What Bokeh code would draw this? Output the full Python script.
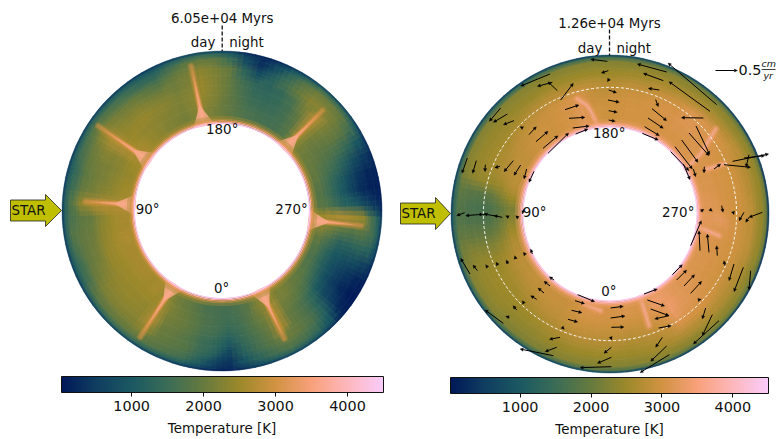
import numpy as np
from bokeh.plotting import figure
from bokeh.layouts import row
from bokeh.models import Range1d, LinearColorMapper, ColorBar, FixedTicker, ColumnDataSource, Arrow, NormalHead
from bokeh.core.properties import value
from bokeh.embed import file_html
from bokeh.resources import INLINE

# ---- data -------------------------------------------------------------
sector_deg = 6
stops = ["#011959", "#103F60", "#1C5A62", "#3C6D56", "#687B3E", "#9D892B", "#D29343", "#F8A17B", "#FDB7BC", "#FACCFA"]
colorbar_ticks = [1000, 2000, 3000, 4000]
left_title = "6.05e+04 Myrs"
right_title = "1.26e+04 Myrs"

inner_ring_T = [4400, 3800, 3200, 2850, 2600]
left_T_1 = [1650,1700,1850,2000,2150,2450,2600,2550,2600,2600,2600,2600,2650,2600,2600,2700,2550,2500,2450,2500,2650,2600,2450,2350,2250,2200,2150,2250,2250,2100,1950,1800,1700,1650,1600,1650,1800,2500,2150,2050,2000,1950,1850,1800,1850,2500,2300,1950,1800,1750,1800,1900,2000,2150,2200,2550,2250,1850,1700,1600]
left_T_2 = [1650,1750,1900,2050,2200,2550,2500,2500,2500,2500,2500,2550,2550,2500,2500,2700,2400,2350,2300,2350,2650,2500,2400,2350,2300,2250,2200,2300,2350,2200,1950,1750,1550,1500,1500,1600,1850,2600,2100,1950,1850,1700,1500,1450,1600,2600,2100,1650,1350,1250,1350,1550,1800,2000,2100,2650,2150,1850,1650,1550]
left_T_3 = [1600,1700,1900,2050,2150,2600,2400,2450,2450,2450,2450,2450,2400,2350,2300,2700,2300,2200,2200,2300,2700,2450,2450,2450,2350,2300,2200,2300,2450,2250,2000,1700,1450,1400,1450,1600,1950,2650,2150,1950,1750,1500,1150,1050,1300,2650,1900,1300,1000,850,850,1050,1500,1800,2000,2650,2050,1800,1550,1400]
left_T_4 = [1400,1550,1800,1950,2050,2650,2350,2400,2400,2350,2250,2150,2100,2050,2000,2600,2150,2100,2150,2300,2650,2350,2300,2300,2200,2150,2100,2200,2450,2250,2000,1600,1350,1300,1400,1700,2150,2700,2200,1950,1600,1150,750,650,1100,2550,1800,1300,850,600,500,700,1350,1750,1950,2600,1950,1700,1450,1100]
left_T_5 = [1250,1500,1800,1900,2000,2400,2250,2250,2250,2200,2050,1950,1950,1950,1900,2350,2000,1900,2000,2100,2400,2200,2100,2050,1900,1800,2000,2150,2350,2200,2000,1350,800,1200,1600,2000,2300,2300,2150,1850,1350,750,400,300,750,2400,1850,1350,800,400,250,500,1250,1750,1950,2100,1850,1600,1250,700]
left_T_6 = [700,1200,1600,1750,1850,1950,2000,2000,1950,1850,1600,1550,1700,1800,1700,1800,1550,1450,1650,1750,1900,1800,1700,1550,1400,1350,1650,1900,2050,1950,1550,800,350,800,1400,1850,2100,2100,2000,1600,1000,450,200,150,450,1600,1650,1250,600,200,80,250,1000,1500,1700,1800,1650,1350,950,400]
left_T_7 = [450,850,1150,1250,1350,1450,1500,1500,1450,1350,1200,1150,1250,1300,1250,1300,1200,1100,1200,1300,1400,1300,1200,1150,1050,1000,1200,1400,1500,1400,1100,600,300,550,1000,1350,1550,1550,1500,1150,750,350,200,150,300,1100,1200,900,450,150,60,150,750,1100,1300,1400,1200,950,650,300]
left_T_8 = [250,400,550,600,650,700,700,700,700,650,600,550,600,650,600,650,600,550,600,650,700,650,600,550,500,500,550,700,750,700,550,300,200,300,500,650,750,750,700,550,350,200,120,100,180,550,600,500,250,100,50,100,400,550,650,700,600,500,350,150]

right_T_1 = [3050,3100,3050,2950,2900,2900,2900,2850,2850,2800,2800,2750,2650,2500,2300,2200,2500,2750,2800,2850,2850,2900,2950,2950,2950,3000,3050,3200,3000,2950,2950,3000,3000,3000,3000,3050,3050,3050,3100,3100,3100,3100,3100,3150,3150,3200,3150,3100,3100,3100,3100,3150,3150,3200,3300,3350,3100,3050,3100,3050]
right_T_2 = [2950,2950,2950,2900,2850,2850,2800,2750,2700,2650,2650,2550,2400,2150,1950,1900,2200,2550,2700,2750,2800,2850,2900,2950,2950,3000,3050,3200,2950,2950,2950,3000,3000,3000,3050,3050,3100,3100,3100,3100,3050,3050,3050,3050,3100,3250,3100,3050,3050,3050,3050,3100,3150,3200,3350,3100,3000,2950,2950,2950]
right_T_3 = [2850,2850,2850,2800,2750,2700,2650,2600,2550,2550,2500,2450,2250,1950,1750,1700,1950,2450,2600,2650,2650,2750,2800,2850,2900,2950,3050,3100,2900,2850,2900,2950,2950,3000,3050,3050,3150,3150,3100,3050,3000,3000,3000,3000,3000,3050,3050,3000,3000,3000,3000,3050,3100,3150,3250,3000,2900,2850,2800,2850]
right_T_4 = [2700,2700,2700,2650,2600,2550,2500,2500,2500,2500,2500,2450,2250,1950,1750,1650,1850,2450,2550,2550,2550,2550,2600,2650,2700,2750,2750,2800,2800,2750,2750,2800,2800,2850,2900,2950,3100,3100,3050,3000,2950,2950,2950,2950,2950,2950,2950,2950,2950,2900,2900,2950,3000,3000,3050,2850,2750,2700,2650,2700]
right_T_5 = [2500,2500,2500,2450,2450,2400,2400,2400,2450,2450,2450,2400,2250,1950,1750,1700,1850,2350,2450,2450,2450,2450,2450,2450,2450,2500,2500,2500,2500,2500,2500,2550,2550,2600,2600,2650,2650,2700,2700,2750,2800,2750,2750,2750,2800,2800,2800,2800,2750,2700,2700,2700,2700,2700,2700,2650,2600,2550,2500,2500]
right_T_6 = [2300,2300,2300,2300,2250,2250,2250,2250,2300,2300,2300,2250,2150,1950,1800,1800,1900,2200,2300,2300,2300,2300,2300,2300,2300,2300,2300,2300,2300,2300,2300,2300,2350,2350,2350,2350,2400,2400,2400,2400,2450,2450,2450,2450,2450,2450,2450,2450,2400,2400,2400,2400,2400,2400,2350,2350,2350,2350,2300,2300]
right_T_7 = [1800,1800,1750,1700,1650,1650,1600,1600,1600,1550,1550,1500,1500,1450,1400,1400,1450,1500,1500,1500,1500,1500,1500,1500,1500,1550,1600,1600,1600,1650,1650,1700,1750,1800,1850,1850,1900,1950,1950,2000,2050,2050,2050,2050,2050,2050,2050,2050,2050,2000,2000,2000,2000,2000,1950,1950,1900,1900,1850,1800]
right_T_8 = [800,800,750,700,700,700,650,650,650,650,650,650,600,600,600,600,600,600,650,650,650,650,650,650,650,650,650,650,700,700,700,700,700,700,700,650,650,600,600,550,500,500,450,450,450,450,450,450,500,500,500,550,550,600,600,650,700,700,750,800]

left_plume_theta = [334, 33, 94, 124.5, 168, 225, 276]
left_plume_end = [426, 450, 411, 450, 444, 426, 420]

arrow_x0 = [-8,-5,-6,170,160,148,320,300,-180,-173,-158,-148,-328,-308,-288,-266,-243,-222,-201,-186,-103,-112,-123,-135,-4,-6,-4,-4,137,126,114,104,97,280,258,237,215,195,182,220,250,283,312,342,417,368,402,-428,-401,-374,-330,-290,-268,-250,-228,-436,-396,-368,-343,-323,-303,-275,-258,272,302,335,370,402,457,417,-420,-398,-371,-340,-306,-283,-256,-233,-168,-180,-198,-220,-260,-280,-302,-320,-97,-105,-115,-126,2,2,4,112,122,177,146,102,187,200,222,242,264,287,307,327,157,170,178,-150,-160,-170,4,4,4,4,-138,242,270,297,322,345,372,400,422]
arrow_y0 = [458,430,400,426,400,372,328,308,420,395,370,342,318,300,280,260,238,217,197,182,240,258,287,313,372,342,310,282,343,316,288,262,242,288,264,243,222,202,187,150,135,142,135,148,178,158,168,168,160,148,143,160,147,135,128,4,-2,0,-6,-10,-10,-12,15,8,12,25,4,5,5,-10,-180,-170,-155,-148,-150,-134,-120,-120,-198,-216,-237,-256,-265,-288,-310,-328,-242,-260,-289,-316,-282,-312,-340,-258,-285,-305,-342,-240,-182,-198,-216,-238,-258,-282,-302,-320,-370,-396,-422,-370,-400,-425,-430,-400,-458,-375,-345,-95,-110,-115,-125,-155,-150,-160,-170]
arrow_x1 = [-58,-26,-8,82,100,115,174,177,-268,-218,-186,-110,-362,-350,-320,-270,-221,-186,-156,-124,-66,-62,-75,-93,20,28,22,16,145,170,160,148,145,214,299,297,264,247,237,240,257,282,332,422,408,476,464,-444,-412,-375,-346,-318,-288,-258,-243,-460,-433,-396,-378,-348,-313,-283,-263,282,307,339,372,387,417,407,-448,-411,-373,-342,-311,-286,-260,-238,-182,-198,-216,-238,-263,-291,-313,-375,-46,-76,-84,-97,40,45,42,164,177,134,184,142,217,230,254,275,274,277,277,250,137,122,90,-182,-195,-270,-38,-18,-90,5,-137,274,267,292,320,342,357,372,417]
arrow_y1 = [464,423,397,450,422,377,453,397,384,383,397,392,278,275,268,262,262,248,235,243,255,264,290,327,364,335,305,278,322,280,257,235,222,289,178,175,155,135,130,103,112,123,150,140,140,180,175,122,122,127,139,127,116,105,95,-5,-5,-2,0,-5,-5,-5,0,14,8,5,-2,-20,-10,-25,-133,-153,-152,-145,-138,-125,-115,-105,-188,-202,-222,-245,-260,-275,-307,-288,-263,-269,-296,-324,-277,-306,-339,-276,-305,-315,-335,-225,-152,-168,-182,-202,-256,-315,-365,-390,-400,-442,-476,-376,-413,-405,-448,-418,-461,-378,-346,-20,-50,-60,-95,-140,-200,-233,-228]

# ---- shared helpers ---------------------------------------------------
xs = np.linspace(0, 1, len(stops))
rgb = np.array([[int(c[i:i + 2], 16) for i in (1, 3, 5)] for c in stops], dtype=float)
palette = ["#%02x%02x%02x" % tuple(int(round(np.interp(t, xs, rgb[:, k]))) for k in range(3)) for t in np.linspace(0, 1, 256)]

FONT = value("DejaVu Sans")
H = 439


def cell_layer(p, mapper, r_edges, rows, shift, alpha, seal):
    """One wedge per table cell, drawn at a fraction of a cell's offset; stacked layers cross-fade the cells."""
    rec = {"ir": [], "or": [], "sa": [], "ea": [], "T": []}
    inner, outer = r_edges[0], r_edges[-1]
    over = 0.05 if seal else 0.0
    for k, row_values in enumerate(rows):
        w = r_edges[k + 1] - r_edges[k]
        if k == 0:
            w = 40
        for i, t in enumerate(row_values):
            a = (i + shift) * sector_deg
            rec["ir"].append(max(inner, min(outer, r_edges[k] + shift * w)))
            rec["or"].append(min(outer, r_edges[k + 1] + shift * w))
            rec["sa"].append(np.radians(270 - a - sector_deg - over))
            rec["ea"].append(np.radians(270 - a + over))
            rec["T"].append(t)
    rec["x"] = [0] * len(rec["T"])
    rec["y"] = [0] * len(rec["T"])
    c = {"field": "T", "transform": mapper}
    p.annular_wedge(x="x", y="y", inner_radius="ir", outer_radius="or", start_angle="sa", end_angle="ea",
                    fill_color=c, fill_alpha=alpha, line_color=c if seal else None, line_width=0.4,
                    source=ColumnDataSource(rec))


def panel(width, x_left, cx, cy, r_edges, rows, low, high):
    p = figure(width=width, height=H, output_backend="svg", toolbar_location=None, min_border=0,
               x_range=Range1d((x_left - cx) * 3, (x_left + width - cx) * 3),
               y_range=Range1d((cy - H) * 3, cy * 3))
    p.axis.visible = False
    p.grid.visible = False
    p.outline_line_color = None
    p.background_fill_color = "white"
    p.border_fill_color = "white"
    mapper = LinearColorMapper(palette=palette, low=low, high=high)
    cell_layer(p, mapper, r_edges, rows, 0.0, 1.0, True)
    cell_layer(p, mapper, r_edges, rows, 1 / 3, 0.5, False)
    cell_layer(p, mapper, r_edges, rows, -1 / 3, 1 / 3, False)
    return p, mapper


def page_xy(px, py, cx, cy):
    return (px - cx) * 3, (cy - py) * 3


def label(p, cx, cy, px, py, txt, size="13.4px", align="center", base="middle", style="normal"):
    x, y = page_xy(px, py, cx, cy)
    p.text([x], [y], text=[txt], text_font=FONT, text_font_size=size, text_align=align, text_baseline=base,
           text_font_style=style, text_color="#111111")


def star(p, cx, cy, left, tip_y, tip_x, head_x, body_h, head_h):
    xx = [left, head_x, head_x, tip_x, head_x, head_x, left]
    yy = [tip_y - body_h, tip_y - body_h, tip_y - head_h, tip_y, tip_y + head_h, tip_y + body_h, tip_y + body_h]
    pts = [page_xy(a, b, cx, cy) for a, b in zip(xx, yy)]
    p.patch([q[0] for q in pts], [q[1] for q in pts], fill_color="#BFBF00", line_color="#222222", line_width=0.8)
    label(p, cx, cy, left + 18, tip_y, "STAR")


def colorbar(p, mapper, x, bottom, w, h=16):
    cb = ColorBar(color_mapper=mapper, ticker=FixedTicker(ticks=colorbar_ticks), location=(x, bottom), width=w, height=h,
                  orientation="horizontal", padding=0, margin=0, major_tick_line_color="#111111", major_tick_in=0,
                  major_tick_out=4, minor_tick_line_color=None, bar_line_color="#111111", bar_line_width=1,
                  border_line_color=None, background_fill_color=None, major_label_text_font="DejaVu Sans",
                  major_label_text_font_size="14.4px", major_label_text_color="#111111", label_standoff=4, title=None)
    p.add_layout(cb, "center")


def rings(p, edges, temps, alphas, mapper):
    recs = dict(x=[0] * len(temps), y=[0] * len(temps), ir=edges[:-1], o=edges[1:], T=temps, a=alphas)
    c = {"field": "T", "transform": mapper}
    p.annulus(x="x", y="y", inner_radius="ir", outer_radius="o", fill_color=c, fill_alpha="a", line_color=None, source=ColumnDataSource(recs))


def plume_layers(p, thetas, ends):
    strip_x = [[-270 * np.sin(np.radians(th)), -e * np.sin(np.radians(th))] for th, e in zip(thetas, ends)]
    strip_y = [[-270 * np.cos(np.radians(th)), -e * np.cos(np.radians(th))] for th, e in zip(thetas, ends)]
    p.multi_line(strip_x, strip_y, line_color="#C88F3A", line_width=7, line_alpha=0.35, line_cap="round")
    p.multi_line(strip_x, strip_y, line_color="#DE9550", line_width=4, line_alpha=0.45, line_cap="round")
    layers = [("#E09850", 2.6, 0.6, 0.98), ("#EE9C68", 1.8, 0.8, 0.9), ("#F8A98A", 0.9, 0.9, 0.7)]
    for col, half, a, frac in layers:
        xs_, ys_ = [], []
        for th, end in zip(thetas, ends):
            tm = np.radians(th)
            t0, t1 = np.radians(th - half), np.radians(th + half)
            tip = 262 + (end - 262) * frac
            xs_.append([-262 * np.sin(t0), -tip * np.sin(tm), -262 * np.sin(t1)])
            ys_.append([-262 * np.cos(t0), -tip * np.cos(tm), -262 * np.cos(t1)])
        p.patches(xs_, ys_, fill_color=col, fill_alpha=a, line_color=None)
    xs_, ys_ = [], []
    for th in thetas:
        tm = np.radians(th)
        t0, t1 = np.radians(th - 7), np.radians(th + 7)
        xs_.append([-262 * np.sin(t0), -325 * np.sin(tm), -262 * np.sin(t1)])
        ys_.append([-262 * np.cos(t0), -325 * np.cos(tm), -262 * np.cos(t1)])
    p.patches(xs_, ys_, fill_color="#F8A98A", fill_alpha=0.85, line_color=None)


# ---- left panel -------------------------------------------------------
LCX, LCY = 221.5, 210.5
L_EDGES = [263, 318, 348, 378, 408, 438, 462, 474, 480]
pl, ml = panel(394, 0, LCX, LCY, L_EDGES, [left_T_1, left_T_2, left_T_3, left_T_4, left_T_5, left_T_6, left_T_7, left_T_8], 25, 4500)
plume_layers(pl, left_plume_theta, left_plume_end)
rings(pl, [261, 265, 269, 273, 278, 286], inner_ring_T, [1, 1, 0.95, 0.7, 0.4], ml)
colorbar(pl, ml, 61, 26, 322)
label(pl, LCX, LCY, 221.7, 17.7, left_title)
label(pl, LCX, LCY, 215, 42, "day", align="right")
label(pl, LCX, LCY, 228.7, 42, "night", align="left")
x, y0 = page_xy(221.7, 25, LCX, LCY)
_, y1 = page_xy(221.7, 50.5, LCX, LCY)
pl.line([x, x], [y0, y1], line_color="#111111", line_width=1.3, line_dash="4 2")
label(pl, LCX, LCY, 221.7, 129, "180°")
label(pl, LCX, LCY, 147, 208.7, "90°")
label(pl, LCX, LCY, 291, 208.7, "270°")
label(pl, LCX, LCY, 221, 288, "0°")
label(pl, LCX, LCY, 221.5, 428, "Temperature [K]")
star(pl, LCX, LCY, 10, 210, 61, 45, 10.5, 16)

# ---- right panel ------------------------------------------------------
RCX, RCY = 609.5, 213.5
R_EDGES = [262, 318, 348, 378, 408, 438, 462, 472, 477]
pr, mr = panel(382, 394, RCX, RCY, R_EDGES, [right_T_1, right_T_2, right_T_3, right_T_4, right_T_5, right_T_6, right_T_7, right_T_8], 17, 4503)
right_segs = [
    ([-38, -53, -68, -98], [265, 300, 325, 345]),
    ([232, 272, 317], [140, 180, 255]),
    ([267, 327], [-40, -65]),
    ([92, 107, 117], [-255, -300, -335]),
    ([-78, -28], [-270, -290]),
    ([292, 342], [135, 150]),
]
for col, w, a in [("#EE9C68", 9, 0.3), ("#F8A98A", 5, 0.45), ("#FBB8B8", 2, 0.35)]:
    pr.multi_line([s[0] for s in right_segs], [s[1] for s in right_segs], line_color=col, line_width=w, line_alpha=a, line_cap="round")
rings(pr, [259.5, 264, 268, 272, 277, 285], [4400, 4000, 3700, 3450, 3250], [1, 1, 0.9, 0.7, 0.4], mr)
theta_c = np.linspace(0, 2 * np.pi, 181)
pr.line(380 * np.cos(theta_c), 380 * np.sin(theta_c), line_color="white", line_width=0.9, line_dash="3 2")
pr.add_layout(Arrow(end=NormalHead(size=3.2, fill_color="black", line_color="black", line_width=0.3),
                    x_start="x0", y_start="y0", x_end="x1", y_end="y1", line_color="black", line_width=1.0,
                    source=ColumnDataSource(dict(x0=arrow_x0, y0=arrow_y0, x1=arrow_x1, y1=arrow_y1))))
colorbar(pr, mr, 56, 25, 318)
label(pr, RCX, RCY, 609, 23.3, right_title)
label(pr, RCX, RCY, 602, 47.7, "day", align="right")
label(pr, RCX, RCY, 616, 47.7, "night", align="left")
x, y0 = page_xy(609, 29, RCX, RCY)
_, y1 = page_xy(609, 55, RCX, RCY)
pr.line([x, x], [y0, y1], line_color="#111111", line_width=1.3, line_dash="4 2")
label(pr, RCX, RCY, 608.7, 133.3, "180°")
label(pr, RCX, RCY, 534, 211.7, "90°")
label(pr, RCX, RCY, 677.7, 211.7, "270°")
label(pr, RCX, RCY, 608.3, 290.7, "0°")
label(pr, RCX, RCY, 609, 429, "Temperature [K]")
star(pr, RCX, RCY, 400, 213, 450, 435, 10.5, 16)
ax0, ay = page_xy(715, 70, RCX, RCY)
ax1, _ = page_xy(737, 70, RCX, RCY)
pr.add_layout(Arrow(end=NormalHead(size=3.2, fill_color="black", line_color="black", line_width=0.3),
                    x_start=ax0, y_start=ay, x_end=ax1, y_end=ay, line_color="black", line_width=1.0))
label(pr, RCX, RCY, 738, 69, "0.5", size="14.4px", align="left")
label(pr, RCX, RCY, 761, 63, "cm", size="9.5px", align="left", style="italic")
label(pr, RCX, RCY, 763, 75, "yr", size="9.5px", align="left", style="italic")
bx0, by = page_xy(761, 69, RCX, RCY)
bx1, _ = page_xy(775, 69, RCX, RCY)
pr.line([bx0, bx1], [by, by], line_color="#111111", line_width=0.8)

layout = row(pl, pr, spacing=0)
open("out.html", "w").write(file_html(layout, INLINE))
